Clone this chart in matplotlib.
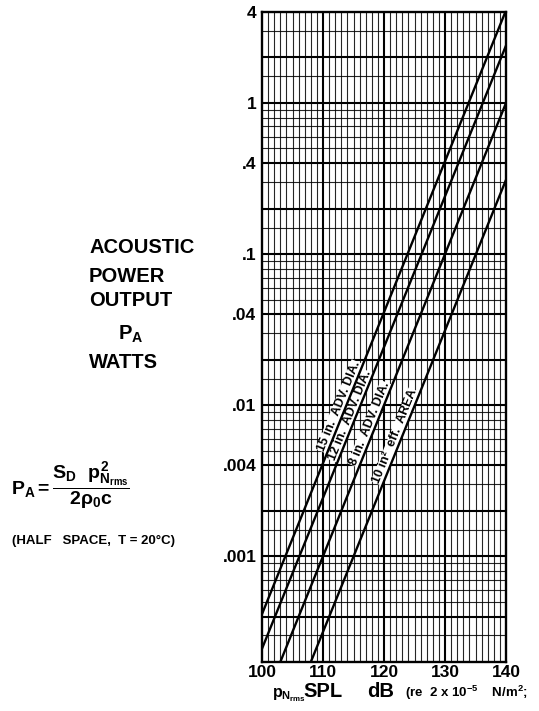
import numpy as np
import matplotlib
matplotlib.use("Agg")
import matplotlib.pyplot as plt
from matplotlib.ticker import NullLocator

# ── Fonts ──────────────────────────────────────────────────────────────────────
plt.rcParams["font.family"] = ["Liberation Sans", "DejaVu Sans"]
plt.rcParams["font.weight"] = "bold"
plt.rcParams["mathtext.fontset"] = "custom"
plt.rcParams["mathtext.rm"] = "Liberation Sans:bold"
plt.rcParams["mathtext.it"] = "Liberation Sans:bold"
plt.rcParams["mathtext.bf"] = "Liberation Sans:bold"
plt.rcParams["mathtext.sf"] = "Liberation Sans:bold"

# ── Data ───────────────────────────────────────────────────────────────────────
spl_15in = [100, 140]
pa_15in  = [4.15e-4, 4.1]
spl_12in = [100, 140]
pa_12in  = [2.45e-4, 2.4]
spl_8in  = [103, 140]
pa_8in   = [2.0e-4, 1.0]
spl_10sq = [108, 140]
pa_10sq  = [2.0e-4, 0.31]

curve_labels = ["15 in.  ADV. DIA.", "12 in.  ADV. DIA.",
                "8 in.  ADV. DIA.", "10 in\u00b2  eff.  AREA"]
label_spl    = [113.6, 115.3, 118.6, 122.8]

x_ticks       = [100, 110, 120, 130, 140]
y_ticks       = [4, 1, 0.4, 0.1, 0.04, 0.01, 0.004, 0.001]
y_tick_labels = ["4", "1", ".4", ".1", ".04", ".01", ".004", ".001"]

W, H = 539, 711


def px(x, y):
    """pixel position (from top-left) -> figure fraction"""
    return x / W, 1 - y / H


fig = plt.figure(figsize=(W / 100, H / 100), dpi=100)
ax = fig.add_axes([262 / W, 49 / H, 244 / W, 650 / H])
ax.set_yscale("log")
ax.set_xlim(100, 140)
ax.set_ylim(2e-4, 4)

# ── Semi-log paper grid ────────────────────────────────────────────────────────
for v in range(101, 140):
    heavy = v % 10 == 0
    ax.axvline(v, color="black", lw=1.5 if heavy else 0.8,
               alpha=1.0 if heavy else 0.85, zorder=1)

for k in range(-4, 1):
    for m in [1, 1.5, 2, 3, 4, 5, 6, 7, 8, 9]:
        val = m * 10.0 ** k
        if 2e-4 < val < 4:
            heavy = m in (1, 2, 4)
            ax.axhline(val, color="black", lw=1.5 if heavy else 0.8,
                       alpha=1.0 if heavy else 0.85, zorder=1)

# ── Curves ─────────────────────────────────────────────────────────────────────
curves = [(spl_15in, pa_15in), (spl_12in, pa_12in),
          (spl_8in, pa_8in), (spl_10sq, pa_10sq)]
for spl, pa in curves:
    ax.plot(spl, pa, color="black", lw=1.7, zorder=4, solid_capstyle="butt")

# rotated labels sitting on each line
for (spl, pa), lab, s in zip(curves, curve_labels, label_spl):
    p = 10 ** np.interp(s, spl, np.log10(pa))
    d0 = ax.transData.transform((spl[0], pa[0]))
    d1 = ax.transData.transform((spl[1], pa[1]))
    ang = np.degrees(np.arctan2(d1[1] - d0[1], d1[0] - d0[0]))
    ax.text(s, p, lab, rotation=ang, rotation_mode="anchor",
            ha="center", va="bottom", fontsize=9, fontweight="bold",
            zorder=3, bbox=dict(fc="white", ec="none", pad=0.3))

# ── Axes cosmetics ─────────────────────────────────────────────────────────────
ax.set_yticks(y_ticks)
ax.set_yticklabels(y_tick_labels)
ax.yaxis.set_minor_locator(NullLocator())
ax.set_xticks(x_ticks)
ax.set_xticklabels([str(t) for t in x_ticks])
ax.tick_params(axis="y", length=0, labelsize=12.5, pad=4)
ax.tick_params(axis="x", length=0, labelsize=12.5, pad=2.5)
for lab in ax.get_xticklabels() + ax.get_yticklabels():
    lab.set_fontweight("bold")
for sp in ax.spines.values():
    sp.set_linewidth(1.7)
    sp.set_zorder(5)

# ── Left side annotations ──────────────────────────────────────────────────────
for txt, y in [("ACOUSTIC", 247), ("POWER", 277), ("OUTPUT", 301), ("WATTS", 362)]:
    fig.text(*px(89, y), txt, ha="left", va="center", fontsize=14.5,
             fontweight="bold")
fig.text(*px(131, 334), r"$P_A$", ha="center", va="center", fontsize=14.5)

fig.text(*px(11, 486), r"$P_A = \dfrac{S_D\ \ p^2_{N_{rms}}}{2\rho_0 c}$",
         ha="left", va="center", fontsize=14)
fig.text(*px(12, 541), "(HALF   SPACE,  T = 20\u00b0C)", ha="left", va="center",
         fontsize=9.5, fontweight="bold")

# ── x-axis title ───────────────────────────────────────────────────────────────
fig.text(*px(272, 697), r"$p_{N_{rms}}$", ha="left", va="baseline", fontsize=11.5)
fig.text(*px(303, 697), "SPL", ha="left", va="baseline", fontsize=14.5,
         fontweight="bold")
fig.text(*px(367, 697), "dB", ha="left", va="baseline", fontsize=14.5,
         fontweight="bold")
fig.text(*px(405, 697), r"(re  2 x 10$^{-5}$    N/m$^2$;", ha="left",
         va="baseline", fontsize=9.5, fontweight="bold")

fig.savefig("out.png", dpi=100)
